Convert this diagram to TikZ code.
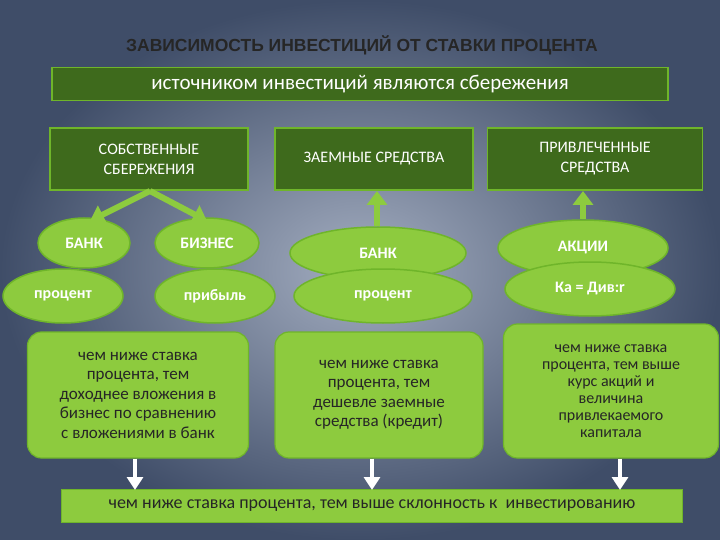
\documentclass[tikz,border=0pt]{standalone}
\usepackage{fontspec}
\setmainfont{Carlito}
\newfontfamily\arialf{Liberation Sans}
\usetikzlibrary{arrows.meta,shapes.geometric}
\definecolor{dg}{HTML}{3E6A1C}
\definecolor{lg}{HTML}{8DCB3E}
\definecolor{lgb}{HTML}{6FB52A}
\definecolor{bgc}{HTML}{A3ADC0}
\definecolor{bge}{HTML}{3F4D68}
\tikzset{
 darkbox/.style={draw=lgb,line width=1.5pt,fill=dg,text=white,align=center,font=\fontsize{16}{20}\selectfont},
 oval/.style={ellipse,draw=lgb,line width=1.5pt,fill=lg,text=white,font=\bfseries\fontsize{16}{18}\selectfont},
 tbox/.style={draw=lgb,line width=1.2pt,fill=lg,rounded corners=14pt,align=center,text=black!85,font=\fontsize{17}{19.5}\selectfont},
 garrow/.style={draw=lg,line width=6pt,-{Triangle[width=20pt,length=14pt]}},
 warrow/.style={draw=white,line width=4pt,-{Triangle[width=16pt,length=13pt]}}
}
\begin{document}
\begin{tikzpicture}[x=1pt,y=-1pt]
\useasboundingbox (0,0) rectangle (720,540);
\shade[inner color=bgc,outer color=bge] (0,0) rectangle (720,540);
\node[font=\arialf\bfseries\fontsize{17.5}{19}\selectfont,text=black!85] (title) at (362,45) {ЗАВИСИМОСТЬ ИНВЕСТИЦИЙ ОТ СТАВКИ ПРОЦЕНТА};
\node[darkbox,minimum width=616pt,minimum height=33pt,font=\fontsize{21}{23}\selectfont] (banner) at (360,84) {источником инвестиций являются сбережения};
\node[darkbox,minimum width=198pt,minimum height=62pt] (own) at (149,159) {СОБСТВЕННЫЕ\\СБЕРЕЖЕНИЯ};
\node[darkbox,minimum width=198pt,minimum height=62pt] (loan) at (374,159) {ЗАЕМНЫЕ СРЕДСТВА};
\node[darkbox,minimum width=215pt,minimum height=62pt] (attr) at (595,159) {ПРИВЛЕЧЕННЫЕ\\СРЕДСТВА};
\node[oval,minimum width=92pt,minimum height=50pt] (bank1) at (84,243) {БАНК};
\node[oval,minimum width=104pt,minimum height=50pt] (biz) at (207,243) {БИЗНЕС};
\node[oval,minimum width=120pt,minimum height=54pt] (proc1) at (63,296) {процент};
\node[oval,minimum width=120pt,minimum height=54pt] (prof) at (215,296) {прибыль};
\node[oval,minimum width=176pt,minimum height=52pt] (bank2) at (378,253) {БАНК};
\node[oval,minimum width=178pt,minimum height=54pt] (proc2) at (383,296) {процент};
\node[oval,minimum width=170pt,minimum height=56pt] (shares) at (583,248) {АКЦИИ};
\node[oval,minimum width=170pt,minimum height=54pt] (ka) at (590,289) {Ка = Див:r};
\coordinate (o1) at (150,191);
\draw[garrow] (o1) -- (90,221);
\draw[garrow] (o1) -- (207,221);
\draw[garrow] (bank2.north -| 377,0) -- (377,191);
\draw[garrow] (shares.north -| 583,0) -- (583,191);
\node[tbox,minimum width=221pt,minimum height=126pt] (t1) at (138,395) {чем ниже ставка\\процента, тем\\доходнее вложения в\\бизнес по сравнению\\с вложениями в банк};
\node[tbox,minimum width=208pt,minimum height=126pt] (t2) at (379,395) {чем ниже ставка\\процента, тем\\дешевле заемные\\средства (кредит)};
\node[tbox,minimum width=215pt,minimum height=134pt,font=\fontsize{16}{17}\selectfont] (t3) at (611,391) {чем ниже ставка\\процента, тем выше\\курс акций и\\величина\\привлекаемого\\капитала};
\node[draw=lgb,line width=1.2pt,fill=lg,minimum width=621pt,minimum height=33pt,text=black!85,font=\fontsize{18}{20}\selectfont] (bot) at (372,506) {чем ниже ставка процента, тем выше склонность к\ \ инвестированию};
\draw[warrow] (t1.south -| 135,0) -- (135,490);
\draw[warrow] (t2.south -| 372,0) -- (372,490);
\draw[warrow] (t3.south -| 620,0) -- (620,490);
\end{tikzpicture}
\end{document}
